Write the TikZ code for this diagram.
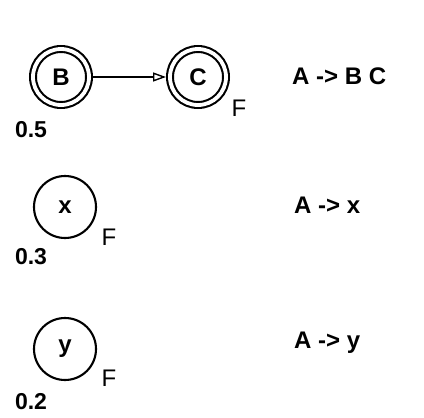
\documentclass[tikz,border=0pt]{standalone}
\usepackage{fontspec}
\setmainfont{Liberation Sans}
\usetikzlibrary{arrows.meta, positioning}

\begin{document}
\begin{tikzpicture}[x=1pt, y=-1pt,
    final/.style={circle, draw, line width=2.1pt, double, double distance=3.8pt,
                  minimum size=56pt, inner sep=0pt, outer sep=4pt,
                  font=\bfseries\fontsize{24}{27}\selectfont},
    term/.style={circle, draw, line width=2.1pt, minimum size=62pt,
                 inner sep=0pt, font=\bfseries\fontsize{24}{27}\selectfont},
    prob/.style={font=\bfseries\fontsize{23}{26}\selectfont, inner sep=0pt},
    fin/.style={font=\fontsize{24}{27}\selectfont, inner sep=0pt},
    rule/.style={anchor=west, font=\bfseries\fontsize{24}{27}\selectfont, inner sep=0pt},
    arrow/.style={-{Triangle[open, length=13pt, width=9pt]}, line width=1.4pt}]
    \useasboundingbox (0,0) rectangle (424,418);
    % A -> B C
    \node[final] (b) at (61,77) {B};
    \node[final, right=73pt of b] (c) {C};
    \draw[arrow] (b) -- (c);
    \node[prob] (pb) at ([shift={(-30,53)}]b.center) {0.5};
    \node[fin] (fc) at ([shift={(41,31)}]c.center) {F};
    \node[rule] (r1) at (292,76) {A -> B C};
    % A -> x
    \node[term] (x) at (65,207) {x};
    \node[prob] (px) at ([shift={(-34,50)}]x.center) {0.3};
    \node[fin] (fx) at ([shift={(44,30)}]x.center) {F};
    \node[rule] (r2) at (294,205) {A -> x};
    % A -> y
    \node[term] (y) at (65,349) {y};
    \node[prob] (py) at ([shift={(-34,53)}]y.center) {0.2};
    \node[fin] (fy) at ([shift={(44,29)}]y.center) {F};
    \node[rule] (r3) at (294,343) {A -> y};
\end{tikzpicture}
\end{document}
